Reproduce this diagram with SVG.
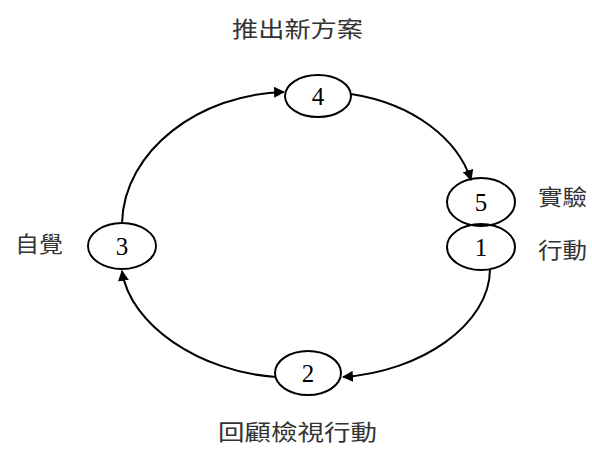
<svg xmlns="http://www.w3.org/2000/svg" width="592" height="454" viewBox="0 0 592 454">
<style>
.node ellipse{fill:#fff;stroke:#000;stroke-width:2}
.node ellipse.open{fill:none}
.num{font-family:"Liberation Serif",serif;font-size:25px;text-anchor:middle;fill:#000}
.lbl{font-family:"Noto Sans CJK TC","Noto Sans CJK SC",sans-serif;font-size:22px;fill:#333}
.edge{fill:none;stroke:#000;stroke-width:2;marker-end:url(#ah)}
</style>
<defs>
<marker id="ah" viewBox="0 0 10 10" refX="9" refY="5" markerWidth="5.5" markerHeight="5.5" orient="auto" markerUnits="strokeWidth">
<path d="M0,0 L10,5 L0,10 Z" fill="#000"/>
</marker>
</defs>
<rect width="592" height="454" fill="#fff"/>
<g id="connectors">
<path class="edge" d="M122,223 C124,150 200,94 284,92"/>
<path class="edge" d="M351,94 C415,104 458,140 471,180"/>
<path class="edge" d="M490,269 C490,325 420,372 343,377"/>
<path class="edge" d="M276,377 C200,372 130,325 122,271"/>
</g>
<g id="node4" class="node"><ellipse cx="318" cy="96" rx="33" ry="21"/><text class="num" x="318" y="105">4</text></g>
<g id="node5" class="node"><ellipse class="open" cx="481" cy="202" rx="34" ry="24"/><text class="num" x="481" y="211">5</text></g>
<g id="node1" class="node"><ellipse class="open" cx="481" cy="247" rx="34" ry="23"/><text class="num" x="481" y="256">1</text></g>
<g id="node3" class="node"><ellipse cx="122" cy="246" rx="34" ry="23"/><text class="num" x="122" y="255">3</text></g>
<g id="node2" class="node"><ellipse cx="308" cy="373" rx="33" ry="22"/><text class="num" x="308" y="382">2</text></g>
<g id="labels">
<text class="lbl" x="232" y="37" textLength="131" lengthAdjust="spacingAndGlyphs">推出新方案</text>
<text class="lbl" x="218" y="440" textLength="159" lengthAdjust="spacingAndGlyphs">回顧檢視行動</text>
<text class="lbl" x="15" y="252" textLength="48" lengthAdjust="spacingAndGlyphs">自覺</text>
<text class="lbl" x="538" y="205" textLength="49" lengthAdjust="spacingAndGlyphs">實驗</text>
<text class="lbl" x="538" y="258" textLength="49" lengthAdjust="spacingAndGlyphs">行動</text>
</g>
</svg>
